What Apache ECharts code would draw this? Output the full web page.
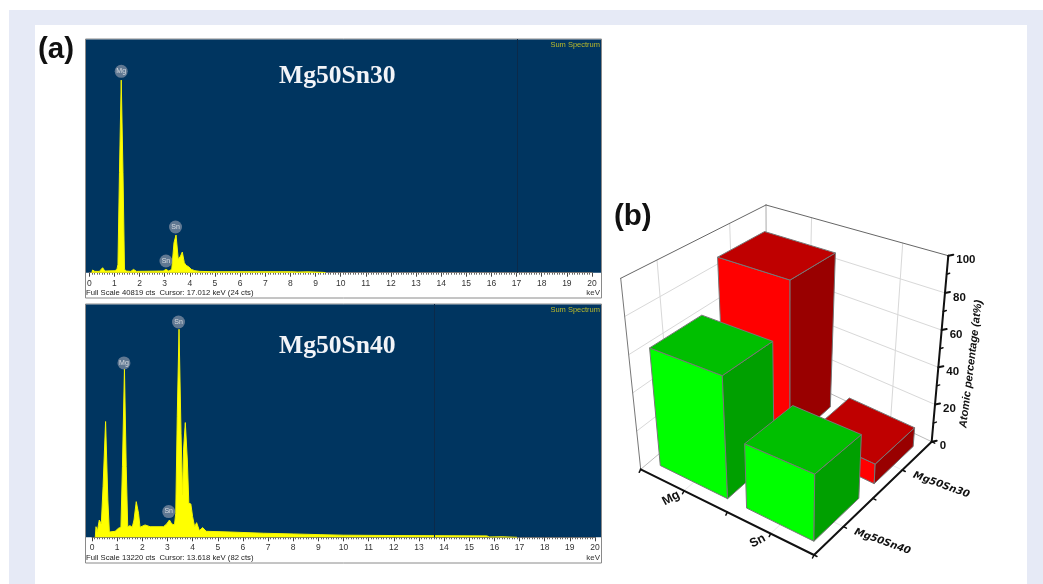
<!DOCTYPE html>
<html>
<head>
<meta charset="utf-8">
<style>
  html, body { margin: 0; padding: 0; background: #fff; }
  /* the source figure is a soft, resampled scan */
  #chart { width: 1043px; height: 584px; filter: blur(0.4px); }
</style>
<script src="https://cdn.jsdelivr.net/npm/echarts@6/dist/echarts.min.js"></script>
</head>
<body>
<div id="chart"></div>
<script>
// spectrum traces: [keV, counts]
const spectrum30 = [
    [0.10, 0], [0.13, 470], [0.22, 230], [0.29, 470], [0.40, 230], [0.53, 870], [0.62, 290],
    [1.02, 350], [1.10, 580], [1.14, 1450], [1.20, 17500], [1.27, 33640], [1.34, 17500],
    [1.40, 580], [1.48, 290], [1.65, 230], [1.76, 580], [1.88, 230], [2.94, 290], [3.05, 580],
    [3.16, 290], [3.28, 580], [3.37, 5240], [3.45, 6580], [3.54, 2330], [3.58, 2040],
    [3.63, 2910], [3.70, 3610], [3.78, 1750], [3.85, 1280], [3.95, 1050], [4.06, 580],
    [4.20, 350], [4.40, 230], [4.95, 170], [6.50, 170], [8.00, 170], [8.30, 120], [8.70, 150],
    [9.30, 60], [9.40, 0]
];
const spectrum40 = [
    [0.13, 0], [0.16, 600], [0.21, 320], [0.29, 980], [0.37, 760], [0.44, 2870], [0.54, 6560],
    [0.63, 2120], [0.69, 300], [0.92, 340], [1.05, 510], [1.15, 570], [1.21, 4010], [1.29, 9530],
    [1.36, 4010], [1.42, 600], [1.51, 660], [1.60, 570], [1.67, 980], [1.76, 2020], [1.85, 1360],
    [1.91, 570], [2.11, 700], [2.31, 600], [2.84, 600], [2.97, 760], [3.08, 980], [3.17, 760],
    [3.28, 700], [3.33, 1360], [3.39, 6840], [3.46, 11790], [3.54, 5900], [3.60, 2400],
    [3.64, 4950], [3.71, 6500], [3.79, 4380], [3.85, 1930], [3.93, 1890], [4.00, 1170],
    [4.08, 600], [4.16, 830], [4.27, 380], [4.40, 550], [4.54, 340], [5.49, 300], [6.82, 230],
    [8.00, 190], [9.07, 150], [10.00, 120], [12.00, 100], [14.00, 90], [15.70, 80], [15.80, 20],
    [16.30, 30], [16.90, 0]
];
const peaks30 = [
    { name: 'Mg', value: [1.27, 35180] },
    { name: 'Sn', value: [3.43, 7980] },
    { name: 'Sn', value: [3.05, 2040] }
];
const peaks40 = [
    { name: 'Sn', value: [3.44, 12200] },
    { name: 'Mg', value: [1.27, 9880] },
    { name: 'Sn', value: [3.05, 1460] }
];
const fullScale30 = 40819;
const fullScale40 = 13220;
const cursor30 = 17.012;
const cursor40 = 13.618;

// panel (b)
const elements = ['Mg', 'Sn'];
const alloys = ['Mg50Sn40', 'Mg50Sn30'];
const atomic30 = [89, 10];
const atomic40 = [62, 32];
const percentTicks = [0, 20, 40, 60, 80, 100];
const percentMinorTicks = [10, 30, 50, 70, 90];

// where the unit box of the 3D plot lands on the page
const box = {
    floor: [[640.7, 469.3], [814, 555], [931.7, 441.7], [766.7, 363.3]],
    roof: [[620.7, 278.3], [816.7, 341.7], [948.3, 255.7], [766, 205]]
};
const barWidth = 0.39;
// the far row is foreshortened
const rowCentre = [0.27, 0.755];
const rowDepth = [0.38, 0.33];

function mix(a, b, t) {
    return [a[0] + (b[0] - a[0]) * t, a[1] + (b[1] - a[1]) * t];
}
function project(u, v, w) {
    const lo = mix(mix(box.floor[0], box.floor[1], u), mix(box.floor[3], box.floor[2], u), v);
    const hi = mix(mix(box.roof[0], box.roof[1], u), mix(box.roof[3], box.roof[2], u), v);
    return mix(lo, hi, w);
}
function polygon(points, fill, stroke) {
    return {
        type: 'polygon',
        shape: { points: points },
        style: { fill: fill, stroke: stroke, lineWidth: 1 }
    };
}
function segment(a, b, color, width) {
    return {
        type: 'line',
        shape: { x1: a[0], y1: a[1], x2: b[0], y2: b[1] },
        style: { stroke: color, lineWidth: width, lineCap: 'round' }
    };
}
function label(text, at, rotate, font, align) {
    return {
        type: 'text',
        x: at[0],
        y: at[1],
        rotation: rotate * Math.PI / 180,
        style: { text: text, font: font, fill: '#111', align: align || 'center', verticalAlign: 'middle' }
    };
}

// scale lookups go through the hidden cartesian axes
function axisFractions(params, api, cat, value) {
    const rect = params.coordSys;
    const p = api.coord([cat, value]);
    return [(p[0] - rect.x) / rect.width, (rect.y + rect.height - p[1]) / rect.height];
}

function renderBar(colors, row) {
    return function (params, api) {
        const f = axisFractions(params, api, api.value(0), api.value(1));
        const u0 = f[0] - barWidth / 2, u1 = f[0] + barWidth / 2;
        const v0 = rowCentre[row] - rowDepth[row] / 2, v1 = rowCentre[row] + rowDepth[row] / 2;
        const w = f[1];
        const edge = '#777';
        return {
            type: 'group',
            children: [
                polygon([project(u0, v0, 0), project(u1, v0, 0), project(u1, v0, w), project(u0, v0, w)], colors[0], edge),
                polygon([project(u1, v0, 0), project(u1, v1, 0), project(u1, v1, w), project(u1, v0, w)], colors[1], edge),
                polygon([project(u0, v0, w), project(u1, v0, w), project(u1, v1, w), project(u0, v1, w)], colors[2], edge)
            ]
        };
    };
}

function renderFrame(params, api) {
    const kids = [];
    const wall = '#d8d8d8';
    const frac = function (p) { return axisFractions(params, api, 0, p)[1]; };

    // walls
    percentTicks.forEach(function (p) {
        if (p === 0 || p === 100) return;
        const w = frac(p);
        kids.push(segment(project(0, 0, w), project(0, 1, w), wall, 1));
        kids.push(segment(project(0, 1, w), project(1, 1, w), wall, 1));
    });
    [0.25, 0.75].forEach(function (t) {
        kids.push(segment(project(0, t, 0), project(0, t, 1), wall, 1));
        kids.push(segment(project(t, 1, 0), project(t, 1, 1), wall, 1));
        kids.push(segment(project(t, 0, 0), project(t, 1, 0), '#e8e8e8', 1));
        kids.push(segment(project(0, t, 0), project(1, t, 0), '#e8e8e8', 1));
    });
    kids.push(segment(project(0, 0, 0), project(0, 1, 0), '#bbb', 1));
    kids.push(segment(project(0, 1, 0), project(1, 1, 0), '#bbb', 1));
    kids.push(segment(project(0, 1, 0), project(0, 1, 1), '#aaa', 1));
    kids.push(segment(project(0, 0, 0), project(0, 0, 1), '#777', 1));
    kids.push(segment(project(0, 0, 1), project(0, 1, 1), '#666', 1));
    kids.push(segment(project(0, 1, 1), project(1, 1, 1), '#666', 1));

    // dark axes
    kids.push(segment(project(0, 0, 0), project(1, 0, 0), '#111', 2));
    kids.push(segment(project(1, 0, 0), project(1, 1, 0), '#111', 2));
    kids.push(segment(project(1, 1, 0), project(1, 1, 1), '#111', 2));

    percentTicks.forEach(function (p) {
        const at = project(1, 1, frac(p));
        kids.push(segment(at, [at[0] + 5, at[1] - 1], '#111', 2));
        kids.push(label(String(p), [at[0] + 8, at[1] + 4.5], 0, 'bold 11.5px "Liberation Sans"', 'left'));
    });
    percentMinorTicks.forEach(function (p) {
        const at = project(1, 1, frac(p));
        kids.push(segment(at, [at[0] + 3, at[1] - 1], '#111', 1.5));
    });
    [0, 0.25, 0.5, 0.75, 1].forEach(function (t) {
        const a = project(t, 0, 0);
        kids.push(segment(a, [a[0] - 1.5, a[1] + 3], '#111', 1.5));
        const b = project(1, t, 0);
        kids.push(segment(b, [b[0] + 3, b[1] + 1.5], '#111', 1.5));
    });
    elements.forEach(function (name, i) {
        const a = project((i + 0.5) / elements.length, 0, 0);
        kids.push(label(name, [a[0] - 13, a[1] + 7.5], 28, 'bold 12.5px "Liberation Sans"'));
    });
    alloys.forEach(function (name, i) {
        const a = project(1, (i + 0.5) / alloys.length, 0);
        kids.push(label(name, [a[0] + 39, a[1] + 15], -20, 'italic bold 10px "DejaVu Sans"'));
    });
    kids.push(label('Atomic percentage (at%)', [971, 364], 83, 'italic bold 11px "Liberation Sans"'));
    return { type: 'group', children: kids };
}

const myChart = echarts.init(document.getElementById('chart'), null, { renderer: 'canvas' });

function spectrumAxis(gridIndex) {
    return {
        type: 'value',
        gridIndex: gridIndex,
        min: 0,
        max: 20,
        interval: 1,
        splitLine: { show: false },
        axisLine: { lineStyle: { color: '#777', width: 1 } },
        axisTick: { length: 4, lineStyle: { color: '#444' } },
        minorTick: { show: true, splitNumber: 10, length: 2, lineStyle: { color: '#666' } },
        axisLabel: { fontSize: 8.5, color: '#333', margin: 6, fontFamily: 'Liberation Sans', hideOverlap: false }
    };
}
function countAxis(gridIndex, max) {
    return { type: 'value', gridIndex: gridIndex, min: 0, max: max, show: false };
}
function traceSeries(axisIndex, data, cursor) {
    return {
        type: 'line',
        xAxisIndex: axisIndex,
        yAxisIndex: axisIndex,
        data: data,
        showSymbol: false,
        silent: true,
        lineStyle: { color: '#f4f400', width: 1 },
        areaStyle: { color: '#ffff00', opacity: 1 },
        markLine: {
            silent: true,
            symbol: 'none',
            label: { show: false },
            lineStyle: { color: '#0b2a4a', width: 1, type: 'solid' },
            data: [{ xAxis: cursor }]
        }
    };
}
function peakSeries(axisIndex, data) {
    return {
        type: 'scatter',
        xAxisIndex: axisIndex,
        yAxisIndex: axisIndex,
        data: data,
        symbolSize: 13,
        z: 5,
        itemStyle: { color: 'rgba(150,158,175,0.8)' },
        label: { show: true, position: 'inside', formatter: '{b}', color: '#f2f2f2', fontSize: 7, fontFamily: 'Liberation Sans' }
    };
}
function backing(x, y, w, h, fill, stroke) {
    return { type: 'rect', z: -10, shape: { x: x, y: y, width: w, height: h }, style: { fill: fill, stroke: stroke || null, lineWidth: 1 } };
}
function caption(text, x, y, font, fill, align) {
    return { type: 'text', z: 50, x: x, y: y, style: { text: text, font: font, fill: fill, align: align || 'left', verticalAlign: 'middle' } };
}

const sans = '"Liberation Sans"';
const serif = '"Liberation Serif"';
const option = {
    animation: false,
    backgroundColor: '#fff',
    graphic: {
        elements: [
            backing(9, 10, 1034, 15, '#e6eaf6'),
            backing(9, 10, 26, 574, '#e6eaf6'),
            backing(1027, 10, 16, 574, '#e6eaf6'),
            backing(85.5, 39, 516, 259, '#fff', '#8a8a8a'),
            backing(86, 39.5, 515, 233.2, '#003560'),
            backing(85.5, 304, 516, 259, '#fff', '#8a8a8a'),
            backing(86, 304.5, 515, 232.8, '#003560'),
            caption('(a)', 38, 50, 'bold 29.5px ' + sans, '#111'),
            caption('(b)', 614, 217, 'bold 29.5px ' + sans, '#111'),
            caption('Mg50Sn30', 279, 76, 'bold 25.6px ' + serif, '#f2f4f8'),
            caption('Mg50Sn40', 279, 346, 'bold 25.6px ' + serif, '#f2f4f8'),
            caption('Sum Spectrum', 600, 45, '7.5px ' + sans, '#b8b92a', 'right'),
            caption('Sum Spectrum', 600, 310, '7.5px ' + sans, '#b8b92a', 'right'),
            caption('keV', 600, 293, '8px ' + sans, '#333', 'right'),
            caption('keV', 600, 558, '8px ' + sans, '#333', 'right'),
            caption('Full Scale ' + fullScale30 + ' cts  Cursor: ' + cursor30.toFixed(3) + ' keV (24 cts)', 86, 293, '7.7px ' + sans, '#222'),
            caption('Full Scale ' + fullScale40 + ' cts  Cursor: ' + cursor40.toFixed(3) + ' keV (82 cts)', 86, 558, '7.7px ' + sans, '#222')
        ]
    },
    grid: [
        { left: 89.3, top: 39, width: 502.7, height: 233.7 },
        { left: 92, top: 304, width: 503, height: 233.3 },
        { left: 620, top: 205, width: 330, height: 350 }
    ],
    xAxis: [
        spectrumAxis(0),
        spectrumAxis(1),
        { type: 'category', gridIndex: 2, data: elements, show: false }
    ],
    yAxis: [
        countAxis(0, fullScale30),
        countAxis(1, fullScale40),
        { type: 'value', gridIndex: 2, min: 0, max: 100, interval: 20, show: false }
    ],
    series: [
        traceSeries(0, spectrum30, cursor30),
        peakSeries(0, peaks30),
        traceSeries(1, spectrum40, cursor40),
        peakSeries(1, peaks40),
        {
            type: 'custom', xAxisIndex: 2, yAxisIndex: 2, silent: true, clip: false, z: 3,
            renderItem: renderFrame,
            data: [[0, 0]]
        },
        {
            type: 'custom', xAxisIndex: 2, yAxisIndex: 2, silent: true, clip: false, z: 4,
            renderItem: renderBar(['#ff0000', '#990000', '#bf0000'], 1),
            data: atomic30.map(function (v, i) { return [i, v]; })
        },
        {
            type: 'custom', xAxisIndex: 2, yAxisIndex: 2, silent: true, clip: false, z: 5,
            renderItem: renderBar(['#00ff00', '#00a000', '#00bf00'], 0),
            data: atomic40.map(function (v, i) { return [i, v]; })
        }
    ]
};
myChart.setOption(option);
</script>
</body>
</html>
